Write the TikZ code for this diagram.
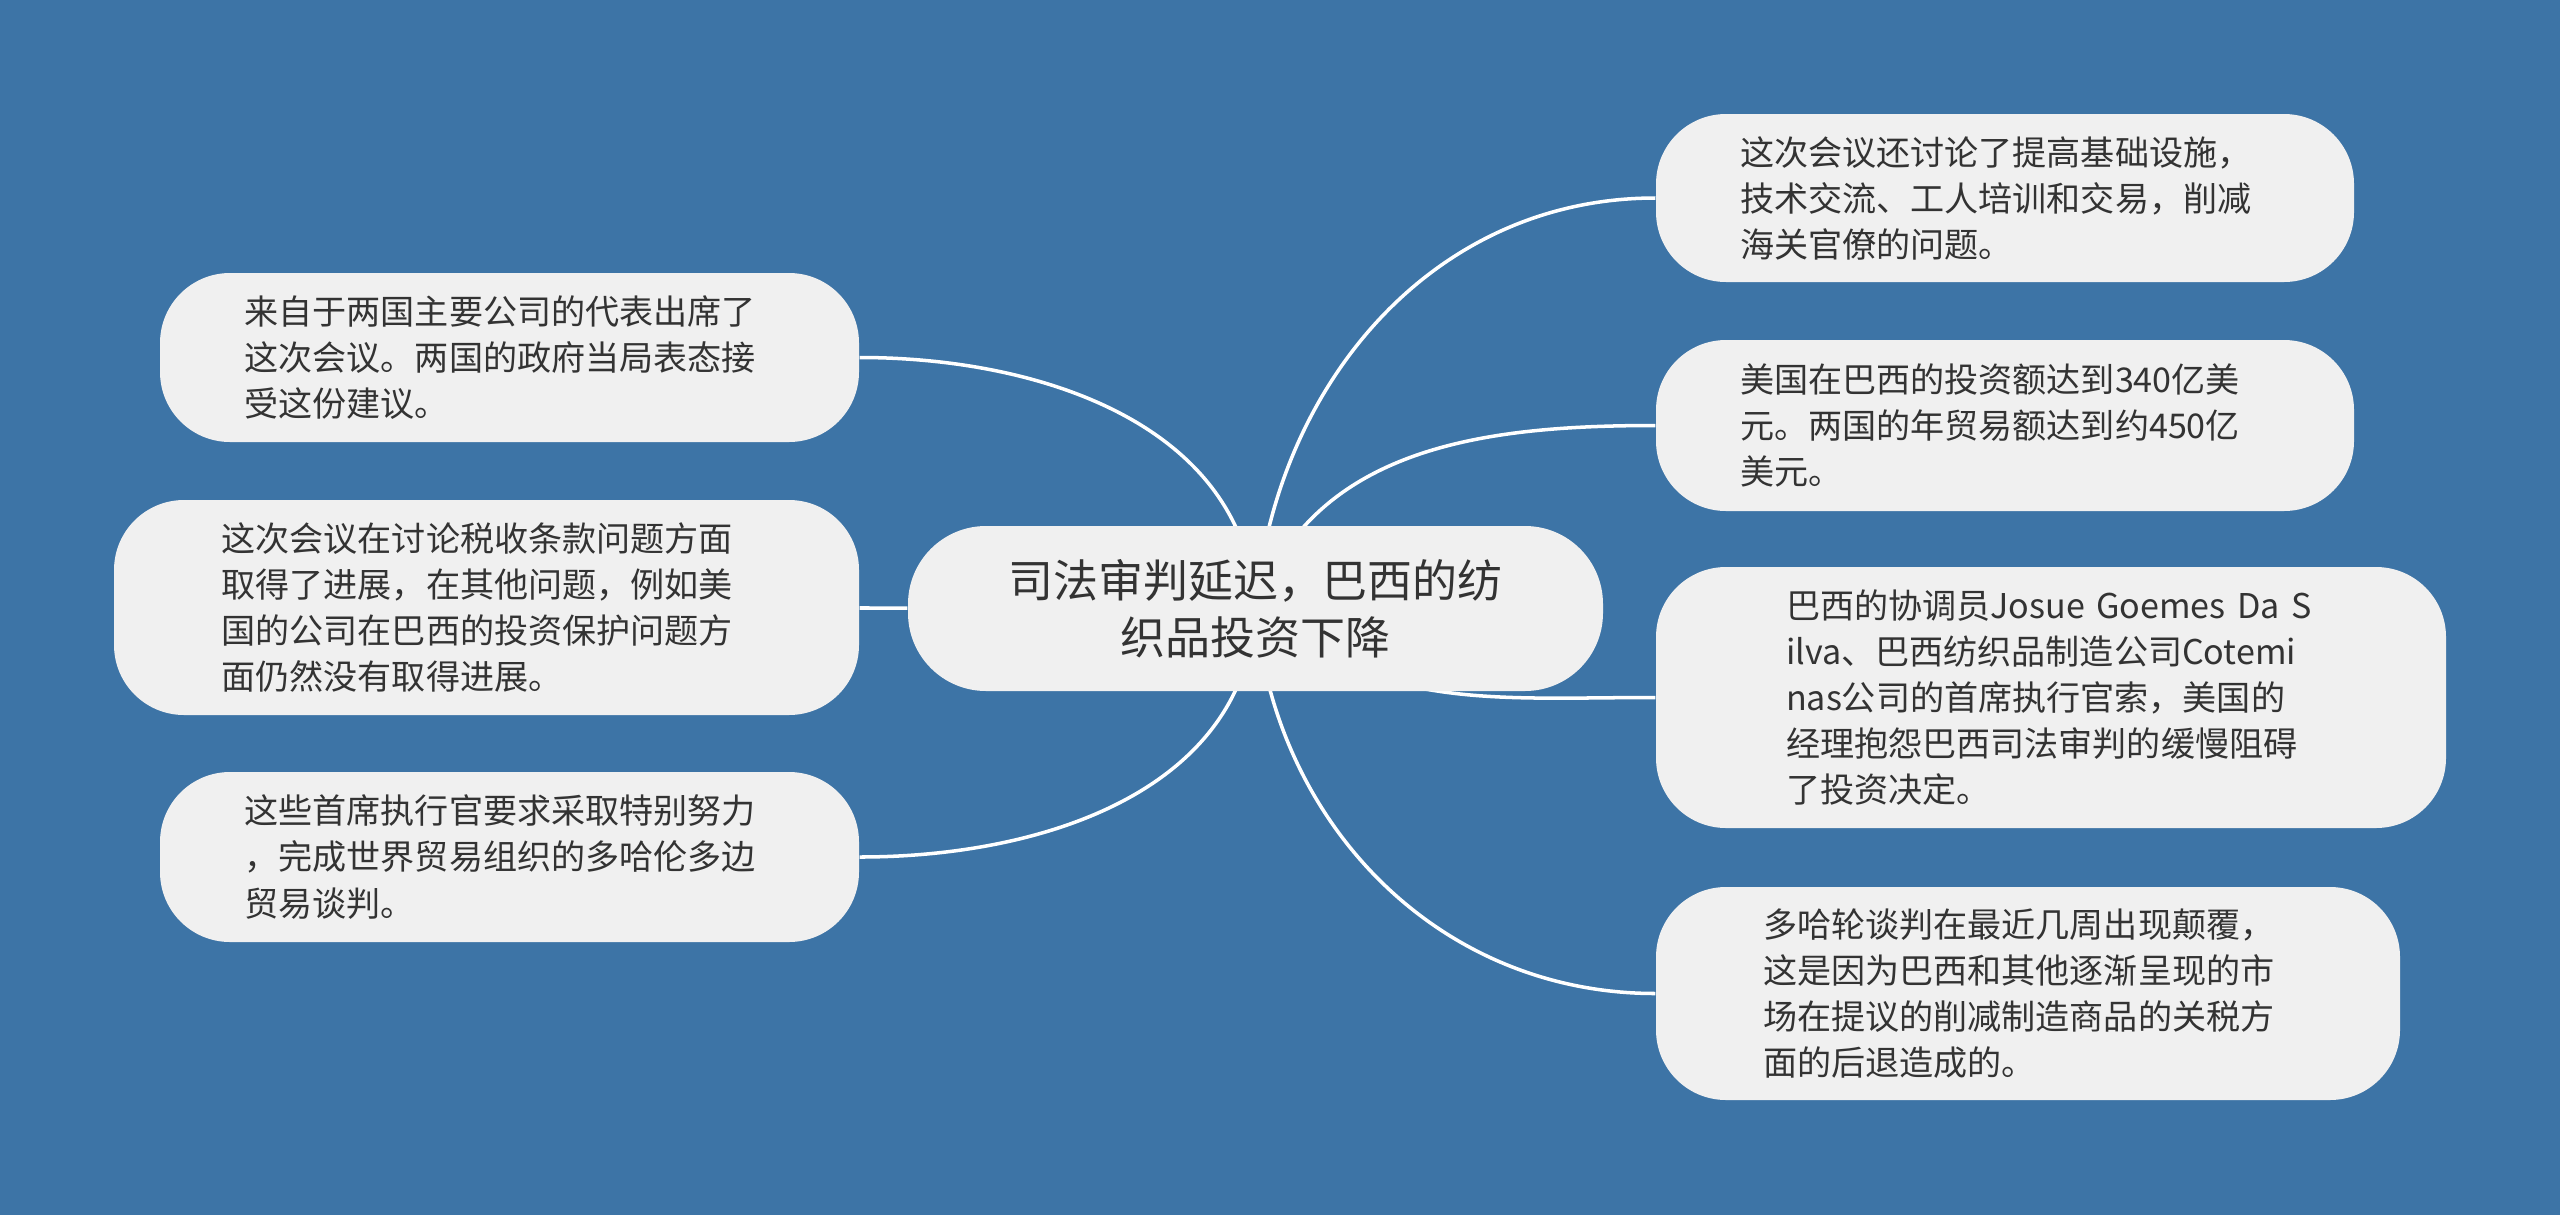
\documentclass[tikz,border=0pt]{standalone}
\usepackage{fontspec}
\setmainfont{Noto Sans CJK SC}
\usetikzlibrary{positioning, backgrounds}
\definecolor{bgblue}{HTML}{3D74A6}
\definecolor{boxgray}{HTML}{F0F0F0}
\definecolor{txtgray}{HTML}{333333}

\begin{document}
\begin{tikzpicture}[
    leaf/.style={fill=boxgray, text=txtgray, rounded corners=0.7cm, align=left,
        text width=5.3cm, inner ysep=0pt, font=\fontsize{9.7}{13.1}\selectfont},
    hub/.style={fill=boxgray, text=txtgray, rounded corners=0.78cm, align=center,
        minimum width=6.95cm, minimum height=1.65cm, font=\fontsize{12.8}{16.2}\selectfont},
    branch/.style={draw=white, line width=1pt}]
    \useasboundingbox (0,0) rectangle (25.6,-12.15);
    \node[hub] (root) at (12.555,-6.085) {司法审判延迟，巴西的纺\\织品投资下降};
    \node[leaf, inner xsep=0.845cm, minimum height=1.69cm] (meet) at (5.095,-3.575)
        {来自于两国主要公司的代表出席了\\这次会议。两国的政府当局表态接\\受这份建议。};
    \node[leaf, inner xsep=1.075cm, minimum height=2.15cm] (tax) at (4.865,-6.075)
        {这次会议在讨论税收条款问题方面\\取得了进展，在其他问题，例如美\\国的公司在巴西的投资保护问题方\\面仍然没有取得进展。};
    \node[leaf, inner xsep=0.845cm, minimum height=1.70cm] (ceo) at (5.095,-8.57)
        {这些首席执行官要求采取特别努力\\，完成世界贸易组织的多哈伦多边\\贸易谈判。};
    \node[leaf, inner xsep=0.84cm, minimum height=1.68cm] (infra) at (20.05,-1.98)
        {这次会议还讨论了提高基础设施，\\技术交流、工人培训和交易，削减\\海关官僚的问题。};
    \node[leaf, inner xsep=0.84cm, minimum height=1.71cm] (invest) at (20.05,-4.255)
        {美国在巴西的投资额达到340亿美\\元。两国的年贸易额达到约450亿\\美元。};
    \node[leaf, inner xsep=1.30cm, minimum height=2.61cm] (court) at (20.51,-6.975)
        {巴西的协调员Josue~Goemes~Da~S\\ilva、巴西纺织品制造公司Cotemi\\nas公司的首席执行官索，美国的\\经理抱怨巴西司法审判的缓慢阻碍\\了投资决定。};
    \node[leaf, inner xsep=1.07cm, minimum height=2.13cm] (doha) at (20.28,-9.935)
        {多哈轮谈判在最近几周出现颠覆，\\这是因为巴西和其他逐渐呈现的市\\场在提议的削减制造商品的关税方\\面的后退造成的。};
    \begin{pgfonlayer}{background}
        \fill[bgblue] (0,0) rectangle (25.6,-12.15);
        \draw[branch] (root.center) to[out=93, in=0] (meet.east);
        \draw[branch] (root) -- (tax);
        \draw[branch] (root.center) to[out=-93, in=0] (ceo.east);
        \draw[branch] (root.center) to[out=85, in=180] (infra.west);
        \draw[branch] (root.center) to[out=70, in=180] (invest.west);
        \draw[branch] (root.center) to[out=-40, in=180] (court.west);
        \draw[branch] (root.center) to[out=-85, in=180] (doha.west);
    \end{pgfonlayer}
\end{tikzpicture}
\end{document}
